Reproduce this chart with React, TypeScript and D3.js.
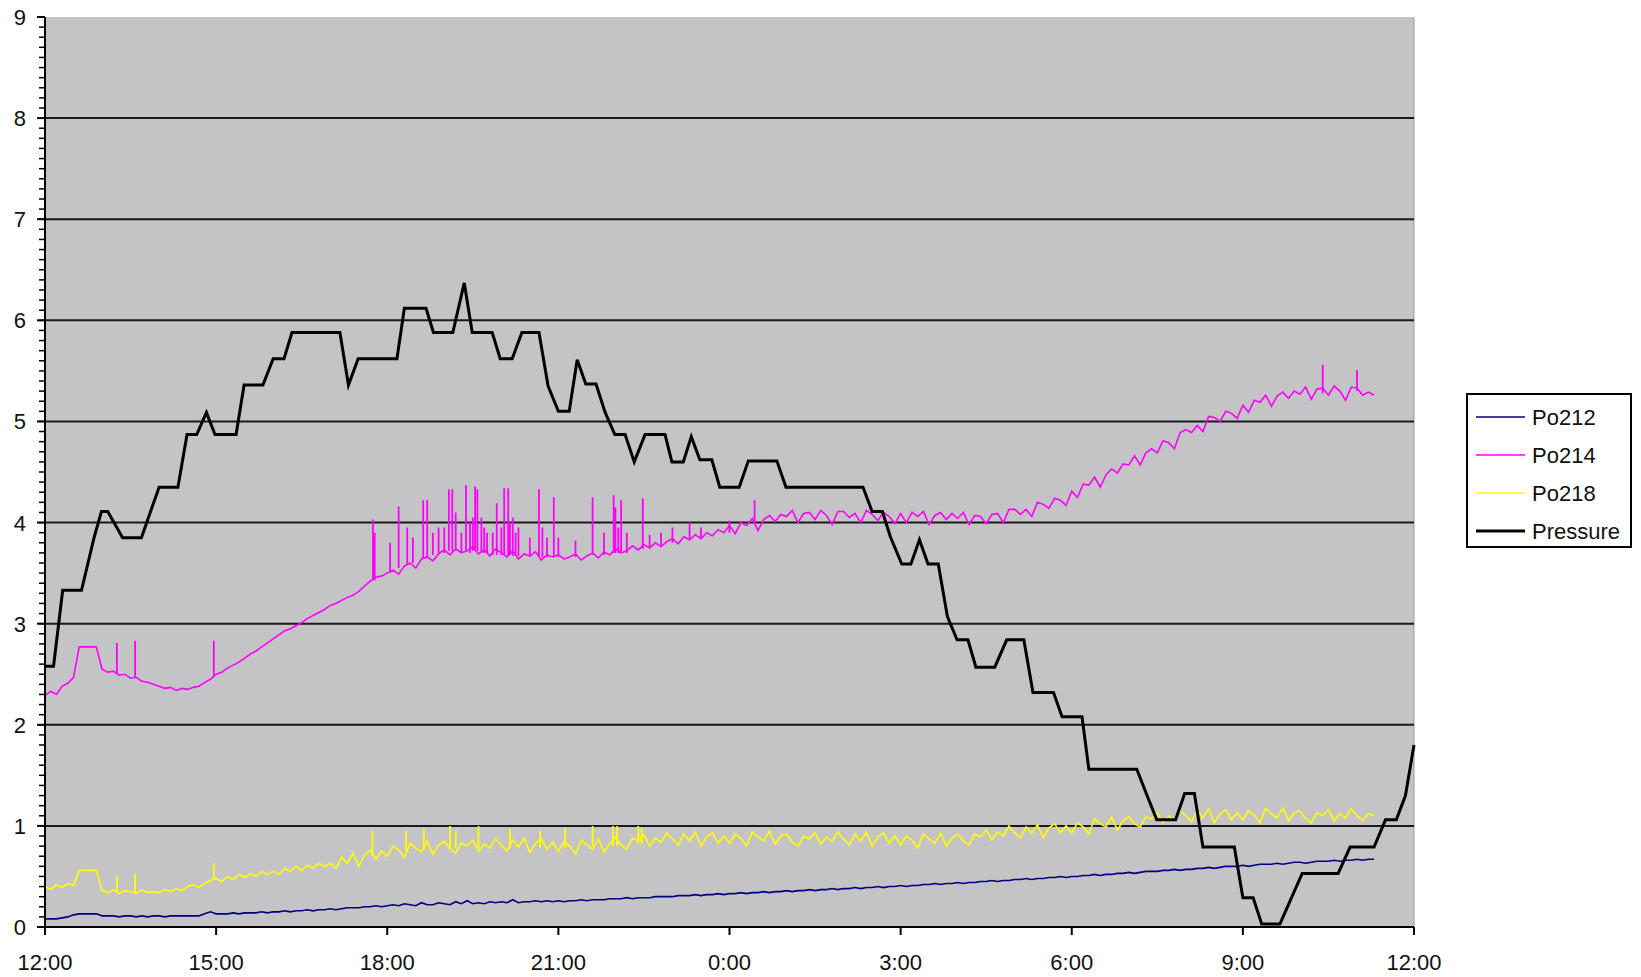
import React from "react";
import * as d3 from "d3";

// ---------- DATA ----------
const startHour = 0; // hours after 12:00
const stepHours = 0.1; // sample spacing of the Po series

const xTickHours = [0, 3, 6, 9, 12, 15, 18, 21, 24];
const xTickLabels = ["12:00", "15:00", "18:00", "21:00", "0:00", "3:00", "6:00", "9:00", "12:00"];
const yTicks = [0, 1, 2, 3, 4, 5, 6, 7, 8, 9];

const po214 = [
  2.29, 2.33, 2.3, 2.38, 2.41, 2.47, 2.77, 2.77, 2.77, 2.77,
  2.55, 2.52, 2.53, 2.49, 2.5, 2.46, 2.47, 2.43, 2.42, 2.4,
  2.38, 2.36, 2.37, 2.34, 2.36, 2.35, 2.37, 2.38, 2.42, 2.45,
  2.5, 2.52, 2.56, 2.59, 2.62, 2.66, 2.7, 2.73, 2.77, 2.81,
  2.85, 2.89, 2.93, 2.95, 2.98, 3.01, 3.05, 3.08, 3.11, 3.14,
  3.18, 3.2, 3.23, 3.26, 3.28, 3.32, 3.37, 3.42, 3.46, 3.47,
  3.5, 3.53, 3.49, 3.57, 3.6, 3.55, 3.64, 3.66, 3.62, 3.69,
  3.73, 3.68, 3.74, 3.7, 3.72, 3.76, 3.69, 3.73, 3.67, 3.74,
  3.7, 3.66, 3.72, 3.64, 3.69, 3.67, 3.71, 3.63, 3.68, 3.66,
  3.68, 3.64, 3.66, 3.69, 3.63, 3.67, 3.7, 3.65, 3.71, 3.68,
  3.74, 3.7, 3.72, 3.77, 3.73, 3.78, 3.75, 3.8, 3.76, 3.81,
  3.84, 3.79, 3.86, 3.83, 3.88, 3.84, 3.9, 3.87, 3.93, 3.9,
  3.97, 3.89, 4.0, 3.97, 4.04, 3.92, 4.03, 4.07, 4.01, 4.08,
  4.06, 4.12, 4.0, 4.09, 4.1, 4.03, 4.12, 4.07, 3.98, 4.11,
  4.11, 4.05, 4.09, 4.0, 4.12, 4.08, 4.02, 4.1, 4.06, 3.99,
  4.09, 4.0, 4.1, 4.06, 4.11, 3.98, 4.07, 4.1, 4.03, 4.09,
  4.04, 4.1, 3.98, 4.07, 4.06, 3.99, 4.08, 4.09, 4.0, 4.13,
  4.13, 4.08, 4.13, 4.06, 4.2, 4.18, 4.14, 4.24, 4.22, 4.17,
  4.31, 4.25, 4.38, 4.37, 4.45, 4.35, 4.47, 4.53, 4.49, 4.58,
  4.57, 4.66, 4.57, 4.69, 4.73, 4.69, 4.81, 4.79, 4.73, 4.89,
  4.92, 4.89, 4.96, 4.9, 5.05, 5.04, 5.0, 5.1, 5.08, 5.03,
  5.16, 5.09, 5.21, 5.19, 5.26, 5.15, 5.25, 5.29, 5.23, 5.3,
  5.27, 5.34, 5.22, 5.32, 5.33, 5.26, 5.35, 5.3, 5.21, 5.34,
  5.33, 5.26, 5.29, 5.26,
];

const po218 = [
  0.4, 0.37, 0.42, 0.39, 0.43, 0.41, 0.56, 0.56, 0.56, 0.56,
  0.36, 0.34, 0.37, 0.33, 0.36, 0.35, 0.33, 0.37, 0.34, 0.35,
  0.34, 0.37, 0.35, 0.38, 0.36, 0.4, 0.42, 0.39, 0.43, 0.46,
  0.48, 0.45, 0.5, 0.47, 0.52, 0.49, 0.53, 0.5, 0.55, 0.52,
  0.55, 0.52, 0.58, 0.55, 0.6, 0.56, 0.61, 0.58, 0.63, 0.6,
  0.63, 0.58, 0.69, 0.63, 0.73, 0.6, 0.71, 0.76, 0.67, 0.75,
  0.7, 0.8, 0.76, 0.69, 0.83, 0.78, 0.74, 0.85, 0.72, 0.81,
  0.85, 0.77, 0.73, 0.83, 0.8, 0.86, 0.75, 0.82, 0.78, 0.87,
  0.81, 0.75, 0.86, 0.79, 0.88, 0.74, 0.83, 0.87, 0.77, 0.84,
  0.75, 0.84, 0.8, 0.72, 0.86, 0.81, 0.77, 0.87, 0.74, 0.82,
  0.89, 0.81, 0.77, 0.88, 0.85, 0.91, 0.8, 0.88, 0.84, 0.93,
  0.87, 0.81, 0.92, 0.85, 0.94, 0.8, 0.89, 0.93, 0.83, 0.9,
  0.83, 0.92, 0.88, 0.8, 0.94, 0.89, 0.85, 0.95, 0.82, 0.9,
  0.92, 0.84, 0.8, 0.9, 0.87, 0.93, 0.82, 0.89, 0.85, 0.94,
  0.87, 0.81, 0.92, 0.85, 0.94, 0.8, 0.89, 0.93, 0.83, 0.9,
  0.81, 0.9, 0.86, 0.78, 0.92, 0.87, 0.83, 0.93, 0.8, 0.88,
  0.92, 0.85, 0.81, 0.92, 0.89, 0.96, 0.86, 0.94, 0.9, 1.0,
  0.93, 0.88, 0.99, 0.93, 1.01, 0.88, 0.98, 1.02, 0.93, 1.0,
  0.93, 1.03, 0.99, 0.92, 1.07, 1.02, 0.99, 1.09, 0.96, 1.05,
  1.09, 1.02, 0.99, 1.09, 1.07, 1.13, 1.03, 1.1, 1.06, 1.15,
  1.1, 1.04, 1.15, 1.08, 1.17, 1.03, 1.12, 1.16, 1.06, 1.13,
  1.06, 1.15, 1.11, 1.03, 1.17, 1.12, 1.08, 1.18, 1.05, 1.13,
  1.15, 1.07, 1.03, 1.13, 1.1, 1.16, 1.05, 1.12, 1.08, 1.17,
  1.1, 1.05, 1.12, 1.1,
];

const po212 = [
  0.08, 0.08, 0.08, 0.09, 0.1, 0.12, 0.13, 0.13, 0.13, 0.13,
  0.11, 0.11, 0.11, 0.1, 0.11, 0.11, 0.1, 0.11, 0.1, 0.11,
  0.11, 0.1, 0.11, 0.11, 0.11, 0.11, 0.11, 0.11, 0.13, 0.15,
  0.13, 0.13, 0.13, 0.14, 0.13, 0.14, 0.14, 0.14, 0.15, 0.14,
  0.15, 0.15, 0.16, 0.15, 0.16, 0.16, 0.17, 0.16, 0.17, 0.17,
  0.18, 0.17, 0.18, 0.19, 0.19, 0.19, 0.2, 0.2, 0.21, 0.2,
  0.21, 0.22, 0.21, 0.23, 0.22, 0.21, 0.24, 0.22, 0.22, 0.24,
  0.23, 0.22, 0.25, 0.23, 0.26, 0.23, 0.24, 0.23, 0.25, 0.24,
  0.25, 0.24, 0.27, 0.24, 0.25, 0.25, 0.26, 0.25, 0.26, 0.25,
  0.26, 0.25, 0.26, 0.26, 0.27, 0.26, 0.27, 0.27, 0.27, 0.28,
  0.28, 0.28, 0.29, 0.28, 0.29, 0.29, 0.29, 0.3, 0.3, 0.3,
  0.3, 0.31, 0.31, 0.31, 0.32, 0.31, 0.32, 0.32, 0.33, 0.32,
  0.33, 0.33, 0.34, 0.33, 0.34, 0.34, 0.35, 0.34, 0.35, 0.35,
  0.36, 0.35, 0.36, 0.36, 0.37, 0.36, 0.37, 0.37, 0.38, 0.37,
  0.38, 0.38, 0.39, 0.38, 0.39, 0.39, 0.4, 0.39, 0.4, 0.4,
  0.41, 0.4, 0.41, 0.41, 0.42, 0.42, 0.43, 0.42, 0.43, 0.43,
  0.44, 0.43, 0.44, 0.44, 0.45, 0.45, 0.46, 0.45, 0.46, 0.46,
  0.47, 0.47, 0.48, 0.47, 0.48, 0.48, 0.49, 0.49, 0.5, 0.49,
  0.5, 0.5, 0.51, 0.51, 0.52, 0.51, 0.52, 0.52, 0.53, 0.53,
  0.54, 0.53, 0.54, 0.55, 0.55, 0.55, 0.56, 0.56, 0.57, 0.56,
  0.57, 0.57, 0.58, 0.58, 0.59, 0.58, 0.59, 0.6, 0.6, 0.6,
  0.61, 0.6, 0.61, 0.62, 0.62, 0.62, 0.63, 0.62, 0.63, 0.64,
  0.64, 0.63, 0.64, 0.65, 0.65, 0.65, 0.66, 0.65, 0.66, 0.66,
  0.67, 0.66, 0.67, 0.67,
];

// spikes: [hour, low, high]
const po214Spikes: [number, number, number][] = [
  [1.26, 2.5, 2.81], [1.58, 2.47, 2.83], [2.96, 2.47, 2.83],
  [5.75, 3.43, 4.03], [5.78, 3.43, 3.9], [6.05, 3.5, 3.8], [6.2, 3.55, 4.16],
  [6.35, 3.58, 3.95], [6.45, 3.6, 3.85], [6.63, 3.65, 4.22], [6.7, 3.66, 4.22],
  [6.8, 3.68, 3.9], [6.9, 3.7, 3.95], [7.0, 3.7, 3.95], [7.08, 3.72, 4.33],
  [7.14, 3.72, 4.33], [7.2, 3.72, 4.1], [7.3, 3.7, 3.9], [7.38, 3.72, 4.37],
  [7.45, 3.7, 4.0], [7.5, 3.72, 4.05], [7.54, 3.72, 4.36], [7.58, 3.72, 4.33],
  [7.65, 3.7, 4.05], [7.7, 3.7, 3.95], [7.75, 3.7, 3.9], [7.85, 3.68, 3.9],
  [7.92, 3.68, 4.19], [8.0, 3.68, 3.95], [8.05, 3.68, 4.34], [8.12, 3.68, 4.34],
  [8.15, 3.68, 4.0], [8.2, 3.67, 4.05], [8.25, 3.67, 3.9], [8.3, 3.67, 3.95],
  [8.5, 3.66, 3.85], [8.66, 3.66, 4.33], [8.72, 3.66, 3.95], [8.8, 3.66, 3.85],
  [8.92, 3.66, 4.25], [9.0, 3.66, 3.85], [9.3, 3.66, 3.82], [9.6, 3.68, 4.25],
  [9.8, 3.68, 3.9], [9.97, 3.7, 4.27], [10.0, 3.7, 4.15], [10.05, 3.7, 3.95],
  [10.1, 3.7, 4.22], [10.2, 3.7, 3.9], [10.48, 3.74, 4.24], [10.6, 3.74, 3.88],
  [10.8, 3.76, 3.9], [11.0, 3.8, 3.95], [11.3, 3.84, 4.0], [11.5, 3.85, 3.95],
  [12.0, 3.9, 4.02], [12.44, 4.0, 4.22],
  [22.4, 5.28, 5.56], [23.0, 5.3, 5.51],
];

const po218Spikes: [number, number, number][] = [
  [1.26, 0.35, 0.5], [1.58, 0.34, 0.53], [2.96, 0.47, 0.63],
  [5.74, 0.7, 0.95], [6.33, 0.75, 0.95], [6.64, 0.76, 0.97], [7.1, 0.78, 1.0],
  [7.2, 0.78, 0.95], [7.6, 0.78, 1.0], [8.15, 0.78, 0.97], [8.68, 0.78, 0.95],
  [9.12, 0.78, 0.98], [9.6, 0.8, 1.0], [9.96, 0.8, 1.0], [10.03, 0.8, 1.0],
  [10.4, 0.82, 1.0], [10.46, 0.82, 0.98],
];

const pressureHours = [
  0, 0.15, 0.31, 0.64, 0.86, 0.99, 1.1, 1.36, 1.69, 2.0, 2.33, 2.49, 2.66, 2.83, 2.98,
  3.35, 3.49, 3.82, 4.0, 4.19, 4.33, 5.17, 5.32, 5.49, 6.17, 6.3, 6.68, 6.81, 7.15,
  7.35, 7.49, 7.84, 7.98, 8.19, 8.36, 8.66, 8.82, 9.0, 9.19, 9.33, 9.48, 9.66, 9.82,
  9.99, 10.17, 10.33, 10.52, 10.87, 10.99, 11.19, 11.33, 11.48, 11.69, 11.83, 12.17,
  12.33, 12.83, 12.99, 14.34, 14.5, 14.68, 14.82, 15.02, 15.18, 15.33, 15.48, 15.66,
  15.82, 15.99, 16.18, 16.32, 16.65, 16.86, 17.16, 17.32, 17.68, 17.83, 18.18, 18.3,
  19.14, 19.32, 19.49, 19.82, 19.98, 20.15, 20.3, 20.85, 21.0, 21.18, 21.33, 21.65,
  22.04, 22.67, 22.88, 23.3, 23.5, 23.69, 23.85, 24.0,
];
const pressureValues = [
  2.58, 2.58, 3.33, 3.33, 3.85, 4.11, 4.11, 3.85, 3.85, 4.35, 4.35, 4.87, 4.87, 5.09, 4.87,
  4.87, 5.36, 5.36, 5.62, 5.62, 5.88, 5.88, 5.36, 5.62, 5.62, 6.12, 6.12, 5.88, 5.88,
  6.37, 5.88, 5.88, 5.62, 5.62, 5.88, 5.88, 5.35, 5.1, 5.1, 5.61, 5.37, 5.37, 5.09,
  4.87, 4.87, 4.6, 4.87, 4.87, 4.6, 4.6, 4.85, 4.62, 4.62, 4.35, 4.35,
  4.61, 4.61, 4.35, 4.35, 4.11, 4.11, 3.86, 3.59, 3.59, 3.83, 3.59, 3.59,
  3.07, 2.84, 2.84, 2.57, 2.57, 2.84, 2.84, 2.32, 2.32, 2.08, 2.08, 1.56,
  1.56, 1.3, 1.06, 1.06, 1.32, 1.32, 0.79, 0.79, 0.29, 0.29, 0.03, 0.03,
  0.53, 0.53, 0.79, 0.79, 1.06, 1.06, 1.3, 1.8,
];

const seriesNames = ["Po212", "Po214", "Po218", "Pressure"];
const seriesColors = ["#000080", "#FF00FF", "#FFFF00", "#000000"];

// ---------- LAYOUT ----------
const W = 1641;
const H = 977;
const plot = { left: 45, right: 1414, top: 17, bottom: 927 };
const FONT = "'Liberation Sans', Arial, sans-serif";

export default function App() {
  const x = d3.scaleLinear().domain([0, 24]).range([plot.left, plot.right]);
  const y = d3.scaleLinear().domain([0, 9]).range([plot.bottom, plot.top]);

  const line = d3
    .line<[number, number]>()
    .x((d) => x(d[0]))
    .y((d) => y(d[1]));

  const toPts = (vals: number[]): [number, number][] =>
    vals.map((v, i) => [startHour + i * stepHours, v]);

  const pressurePts: [number, number][] = pressureHours.map((h, i) => [h, pressureValues[i]]);

  const spikePath = (sp: [number, number, number][]) =>
    sp.map((s) => line([[s[0], s[1]], [s[0], s[2]]])).join("");

  const minorTicks = d3.range(0, 90).map((i) => i / 10);

  return (
    <svg
      width={W}
      height={H}
      style={{ position: "absolute", left: 0, top: 0, background: "#ffffff" }}
      fontFamily={FONT}
    >
      <rect x={0} y={0} width={W} height={H} fill="#ffffff" />
      <rect
        x={plot.left}
        y={plot.top}
        width={plot.right - plot.left}
        height={plot.bottom - plot.top}
        fill="#c4c3c6"
      />
      <line x1={plot.right} x2={plot.right} y1={plot.top} y2={plot.bottom} stroke="#9a9a9a" strokeWidth={1} />
      {yTicks.filter((t) => t > 0 && t < 9).map((t) => (
        <line key={"g" + t} x1={plot.left} x2={plot.right} y1={y(t)} y2={y(t)} stroke="#1a1a1a" strokeWidth={2} />
      ))}

      <path d={line(toPts(po212)) || ""} fill="none" stroke={seriesColors[0]} strokeWidth={1.6} />
      <path d={line(toPts(po214)) || ""} fill="none" stroke={seriesColors[1]} strokeWidth={1.6} />
      <path d={spikePath(po214Spikes)} fill="none" stroke={seriesColors[1]} strokeWidth={1.8} />
      <path d={line(toPts(po218)) || ""} fill="none" stroke={seriesColors[2]} strokeWidth={1.6} />
      <path d={spikePath(po218Spikes)} fill="none" stroke={seriesColors[2]} strokeWidth={1.8} />
      <path d={line(pressurePts) || ""} fill="none" stroke={seriesColors[3]} strokeWidth={3} strokeLinejoin="miter" />

      <line x1={plot.left} x2={plot.left} y1={plot.top} y2={plot.bottom} stroke="#000" strokeWidth={2} />
      <line x1={plot.left} x2={plot.right} y1={plot.bottom} y2={plot.bottom} stroke="#000" strokeWidth={2} />
      {minorTicks.map((t) => (
        <line key={"m" + t} x1={plot.left - 6} x2={plot.left} y1={y(t)} y2={y(t)} stroke="#000" strokeWidth={1.5} />
      ))}
      {yTicks.map((t) => (
        <g key={"y" + t}>
          <line x1={plot.left - 8} x2={plot.left} y1={y(t)} y2={y(t)} stroke="#000" strokeWidth={2} />
          <text x={26} y={y(t) + 8} textAnchor="end" fontSize={22} fill="#111">
            {t}
          </text>
        </g>
      ))}
      {xTickHours.map((h, i) => (
        <g key={"x" + i}>
          <line x1={x(h)} x2={x(h)} y1={plot.bottom} y2={plot.bottom + 8} stroke="#000" strokeWidth={2} />
          <text x={x(h)} y={970} textAnchor="middle" fontSize={22} fill="#111">
            {xTickLabels[i]}
          </text>
        </g>
      ))}

      <rect x={1467} y={394} width={164} height={153} fill="#ffffff" stroke="#000" strokeWidth={2} />
      {seriesNames.map((n, i) => (
        <g key={n} transform={`translate(0, ${417 + i * 38})`}>
          <line x1={1476} x2={1525} y1={0} y2={0} stroke={seriesColors[i]} strokeWidth={i === 3 ? 3 : 1.5} />
          <text x={1532} y={8} fontSize={22} fill="#111">
            {n}
          </text>
        </g>
      ))}
    </svg>
  );
}
